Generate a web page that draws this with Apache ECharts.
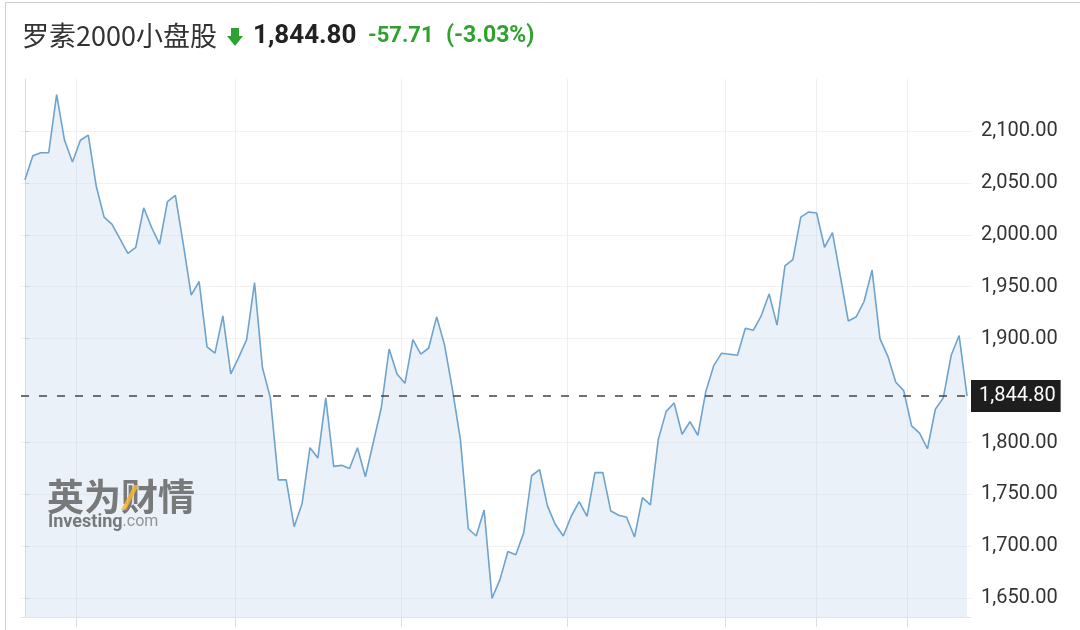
<!DOCTYPE html>
<html>
<head>
<meta charset="utf-8">
<script src="https://cdn.jsdelivr.net/npm/echarts@6/dist/echarts.min.js"></script>
<style>
  html, body { margin: 0; padding: 0; background: #fff; }
  #chart { width: 1080px; height: 630px; }
</style>
</head>
<body>
<div id="chart"></div>
<script>
// Russell 2000 daily closes (index 0 = first trading day shown)
const closes = [
  2053, 2076, 2079, 2079, 2135, 2091, 2070, 2091, 2096, 2047,
  2017, 2010, 1996, 1982, 1988, 2026, 2007, 1991, 2032, 2038,
  1991, 1942, 1955, 1892, 1886, 1922, 1866, 1882, 1899, 1954,
  1872, 1843, 1764, 1764, 1719, 1741, 1795, 1785, 1843, 1777,
  1778, 1775, 1795, 1767, 1800, 1833, 1890, 1866, 1857, 1899,
  1885, 1891, 1921, 1894, 1851, 1803, 1717, 1710, 1735, 1650,
  1668, 1695, 1692, 1713, 1768, 1774, 1739, 1721, 1710, 1729,
  1743, 1729, 1771, 1771, 1734, 1730, 1728, 1709, 1747, 1740,
  1803, 1830, 1838, 1808, 1820, 1807, 1849, 1874, 1886, 1885,
  1884, 1910, 1908, 1922, 1943, 1913, 1970, 1976, 2017, 2022,
  2021, 1988, 2002, 1960, 1917, 1921, 1936, 1966, 1900, 1883,
  1858, 1850, 1816, 1809, 1794, 1832, 1843, 1884, 1903, 1844.80
];
// Month boundary ticks (in trading-day index units)
const xTickPositions = [6.5, 26.5, 47.5, 68.5, 88.5, 100, 111.5];
// Y axis gridlines / labels
const yGridValues = [1650, 1700, 1750, 1800, 1900, 1950, 2000, 2050, 2100];
const yLabelValues = [1650, 1700, 1750, 1800, 1900, 1950, 2000, 2050, 2100];
const lastPrice = 1844.80;
const titleName = '罗素2000小盘股';
const titlePrice = '1,844.80';
const titleChange = '-57.71';
const titlePct = '(-3.03%)';

const fmt = v => v.toLocaleString('en-US', {minimumFractionDigits: 2, maximumFractionDigits: 2});

const chart = echarts.init(document.getElementById('chart'), null, {renderer: 'canvas'});
const green = '#2ea12e';
const wm = 'rgba(100,100,100,0.85)';

chart.setOption({
  animation: false,
  backgroundColor: '#ffffff',
  grid: { left: 21, right: 109, top: 79, bottom: 13, containLabel: false },
  xAxis: {
    type: 'value',
    min: -0.5,
    max: closes.length - 0.5,
    axisLine: { show: true, lineStyle: { color: '#dfe4ea', width: 1 } },
    axisTick: { show: true, length: 10, lineStyle: { color: '#d8dde3' }, customValues: xTickPositions },
    axisLabel: { show: false, customValues: xTickPositions },
    splitLine: { show: true, lineStyle: { color: '#eeeeee', width: 1 } }
  },
  yAxis: {
    type: 'value',
    position: 'right',
    min: 1632,
    max: 2150,
    axisLine: { show: true, lineStyle: { color: '#dcdcdc', width: 1 } },
    axisTick: { show: true, length: 4, lineStyle: { color: '#cccccc' }, customValues: yGridValues },
    axisLabel: {
      show: true, customValues: yLabelValues, margin: 10,
      color: '#333333', fontSize: 20, fontFamily: 'Roboto',
      formatter: v => fmt(v)
    },
    splitLine: { show: true, lineStyle: { color: '#f1f1f1', width: 1 } }
  },
  series: [{
    type: 'line',
    data: closes.map((v, i) => [i, v]),
    symbol: 'none',
    lineStyle: { color: '#6ea3cd', width: 1.6 },
    areaStyle: { color: 'rgba(196, 215, 235, 0.5)' },
    z: 3,
    markLine: {
      silent: true,
      symbol: ['none', 'none'],
      lineStyle: { type: [8, 10], color: '#444444', width: 1.5 },
      label: {
        show: true, position: 'end', distance: 0,
        formatter: () => fmt(lastPrice),
        color: '#ffffff', backgroundColor: '#1e1e1e',
        fontSize: 20, fontFamily: 'Roboto',
        padding: [6, 5, 6, 8]
      },
      data: [{ yAxis: lastPrice }],
      z: 10
    }
  }],
  graphic: [
    { type: 'rect', left: 3, top: 0, shape: { x: 0.5, y: 0.5, width: 1090, height: 650 },
      style: { fill: 'none', stroke: '#cfcfcf', lineWidth: 1 }, silent: true, z: 100 },
    { type: 'text', x: 22, y: 36, style: { text: titleName, font: '27px "Noto Sans CJK SC", Roboto, sans-serif', fill: '#333333', textVerticalAlign: 'middle' } },
    { type: 'polygon', shape: { points: [[231, 28], [239, 28], [239, 36], [243, 36], [235, 46], [227, 36], [231, 36]] }, style: { fill: green } },
    { type: 'text', x: 253, y: 36, style: { text: titlePrice, font: 'bold 26px Roboto, sans-serif', fill: '#222222', textVerticalAlign: 'middle' } },
    { type: 'text', x: 368, y: 36, style: { text: titleChange, font: 'bold 22px Roboto, sans-serif', fill: green, textVerticalAlign: 'middle' } },
    { type: 'text', x: 446, y: 36, style: { text: titlePct, font: 'bold 23px Roboto, sans-serif', fill: green, textVerticalAlign: 'middle' } },
    { type: 'text', x: 47, y: 497, z: 50, style: { text: '英为财情', font: 'bold 37px "Noto Sans CJK SC", sans-serif', fill: wm, textVerticalAlign: 'middle' } },
    { type: 'polygon', z: 51, shape: { points: [[134, 485], [139, 485], [126, 510], [121, 510]] }, style: { fill: 'rgba(245,180,50,0.85)' } },
    { type: 'text', x: 48, y: 522, z: 50, style: {
        text: '{b|Investing}{c|.com}', textVerticalAlign: 'middle',
        rich: {
          b: { font: 'bold 18px Roboto, sans-serif', fill: wm, color: wm },
          c: { font: '16px Roboto, sans-serif', fill: 'rgba(125,125,125,0.8)', color: 'rgba(125,125,125,0.8)' }
        }
      } }
  ]
});
</script>
</body>
</html>
